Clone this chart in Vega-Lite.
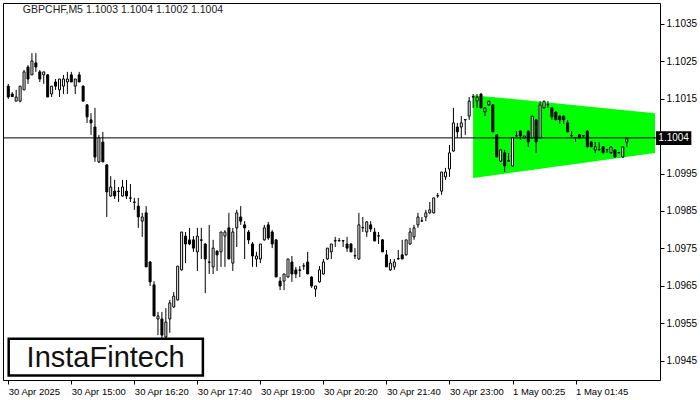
{
  "$schema": "https://vega.github.io/schema/vega-lite/v6.json",
  "width": 657,
  "height": 377,
  "autosize": {"type": "none"},
  "padding": {"left": 3, "top": 3, "right": 40, "bottom": 20},
  "background": "white",
  "config": {
    "view": {"stroke": "black", "strokeWidth": 1},
    "axis": {"domain": false, "grid": false, "tickColor": "black", "labelColor": "black", "labelFont": "Liberation Sans", "title": null}
  },
  "datasets": {
    "one": [{}],
    "candles": [
      {"i":0,"o":1.10183,"h":1.10189,"l":1.10149,"c":1.10154},
      {"i":1,"o":1.10162,"h":1.10167,"l":1.10154,"c":1.10155},
      {"i":2,"o":1.10143,"h":1.10173,"l":1.10143,"c":1.10154},
      {"i":3,"o":1.10143,"h":1.10183,"l":1.10140,"c":1.10183},
      {"i":4,"o":1.10173,"h":1.10226,"l":1.10173,"c":1.10221},
      {"i":5,"o":1.10234,"h":1.10239,"l":1.10189,"c":1.10202},
      {"i":6,"o":1.10213,"h":1.10271,"l":1.10213,"c":1.10250},
      {"i":7,"o":1.10245,"h":1.10271,"l":1.10221,"c":1.10234},
      {"i":8,"o":1.10221,"h":1.10226,"l":1.10194,"c":1.10202},
      {"i":9,"o":1.10213,"h":1.10221,"l":1.10189,"c":1.10221},
      {"i":10,"o":1.10213,"h":1.10215,"l":1.10154,"c":1.10154},
      {"i":11,"o":1.10162,"h":1.10183,"l":1.10154,"c":1.10183},
      {"i":12,"o":1.10194,"h":1.10202,"l":1.10173,"c":1.10183},
      {"i":13,"o":1.10173,"h":1.10202,"l":1.10154,"c":1.10202},
      {"i":14,"o":1.10183,"h":1.10213,"l":1.10162,"c":1.10202},
      {"i":15,"o":1.10194,"h":1.10221,"l":1.10162,"c":1.10202},
      {"i":16,"o":1.10213,"h":1.10221,"l":1.10194,"c":1.10194},
      {"i":17,"o":1.10183,"h":1.10202,"l":1.10162,"c":1.10202},
      {"i":18,"o":1.10213,"h":1.10221,"l":1.10194,"c":1.10194},
      {"i":19,"o":1.10183,"h":1.10185,"l":1.10143,"c":1.10143},
      {"i":20,"o":1.10133,"h":1.10135,"l":1.10085,"c":1.10101},
      {"i":21,"o":1.10093,"h":1.10111,"l":1.10053,"c":1.10085},
      {"i":22,"o":1.10074,"h":1.10125,"l":1.09981,"c":1.09994},
      {"i":23,"o":1.09981,"h":1.10053,"l":1.09978,"c":1.10045},
      {"i":24,"o":1.10034,"h":1.10061,"l":1.09981,"c":1.09981},
      {"i":25,"o":1.09973,"h":1.09975,"l":1.09834,"c":1.09901},
      {"i":26,"o":1.09890,"h":1.09943,"l":1.09888,"c":1.09914},
      {"i":27,"o":1.09903,"h":1.09933,"l":1.09882,"c":1.09890},
      {"i":28,"o":1.09903,"h":1.09914,"l":1.09874,"c":1.09902},
      {"i":29,"o":1.09890,"h":1.09933,"l":1.09888,"c":1.09914},
      {"i":30,"o":1.09903,"h":1.09933,"l":1.09882,"c":1.09890},
      {"i":31,"o":1.09885,"h":1.09922,"l":1.09874,"c":1.09884},
      {"i":32,"o":1.09874,"h":1.09885,"l":1.09853,"c":1.09873},
      {"i":33,"o":1.09863,"h":1.09885,"l":1.09805,"c":1.09834},
      {"i":34,"o":1.09823,"h":1.09845,"l":1.09781,"c":1.09834},
      {"i":35,"o":1.09845,"h":1.09863,"l":1.09701,"c":1.09701},
      {"i":36,"o":1.09714,"h":1.09716,"l":1.09650,"c":1.09661},
      {"i":37,"o":1.09653,"h":1.09663,"l":1.09570,"c":1.09570},
      {"i":38,"o":1.09562,"h":1.09581,"l":1.09519,"c":1.09570},
      {"i":39,"o":1.09562,"h":1.09581,"l":1.09506,"c":1.09519},
      {"i":40,"o":1.09514,"h":1.09591,"l":1.09506,"c":1.09554},
      {"i":41,"o":1.09562,"h":1.09613,"l":1.09525,"c":1.09605},
      {"i":42,"o":1.09594,"h":1.09634,"l":1.09592,"c":1.09623},
      {"i":43,"o":1.09613,"h":1.09703,"l":1.09611,"c":1.09703},
      {"i":44,"o":1.09693,"h":1.09794,"l":1.09691,"c":1.09794},
      {"i":45,"o":1.09783,"h":1.09794,"l":1.09711,"c":1.09762},
      {"i":46,"o":1.09773,"h":1.09805,"l":1.09759,"c":1.09762},
      {"i":47,"o":1.09773,"h":1.09783,"l":1.09741,"c":1.09751},
      {"i":48,"o":1.09741,"h":1.09805,"l":1.09690,"c":1.09783},
      {"i":49,"o":1.09773,"h":1.09805,"l":1.09722,"c":1.09772},
      {"i":50,"o":1.09762,"h":1.09764,"l":1.09631,"c":1.09722},
      {"i":51,"o":1.09714,"h":1.09813,"l":1.09682,"c":1.09713},
      {"i":52,"o":1.09701,"h":1.09773,"l":1.09682,"c":1.09751},
      {"i":53,"o":1.09743,"h":1.09745,"l":1.09690,"c":1.09733},
      {"i":54,"o":1.09741,"h":1.09794,"l":1.09701,"c":1.09794},
      {"i":55,"o":1.09783,"h":1.09799,"l":1.09701,"c":1.09794},
      {"i":56,"o":1.09805,"h":1.09845,"l":1.09722,"c":1.09722},
      {"i":57,"o":1.09711,"h":1.09805,"l":1.09690,"c":1.09794},
      {"i":58,"o":1.09805,"h":1.09853,"l":1.09754,"c":1.09845},
      {"i":59,"o":1.09834,"h":1.09863,"l":1.09813,"c":1.09823},
      {"i":60,"o":1.09813,"h":1.09823,"l":1.09722,"c":1.09805},
      {"i":61,"o":1.09794,"h":1.09799,"l":1.09762,"c":1.09773},
      {"i":62,"o":1.09762,"h":1.09767,"l":1.09701,"c":1.09730},
      {"i":63,"o":1.09722,"h":1.09741,"l":1.09701,"c":1.09730},
      {"i":64,"o":1.09722,"h":1.09762,"l":1.09711,"c":1.09762},
      {"i":65,"o":1.09773,"h":1.09813,"l":1.09771,"c":1.09805},
      {"i":66,"o":1.09813,"h":1.09821,"l":1.09773,"c":1.09778},
      {"i":67,"o":1.09794,"h":1.09799,"l":1.09751,"c":1.09762},
      {"i":68,"o":1.09773,"h":1.09775,"l":1.09674,"c":1.09674},
      {"i":69,"o":1.09663,"h":1.09674,"l":1.09639,"c":1.09650},
      {"i":70,"o":1.09663,"h":1.09682,"l":1.09639,"c":1.09682},
      {"i":71,"o":1.09674,"h":1.09722,"l":1.09672,"c":1.09722},
      {"i":72,"o":1.09714,"h":1.09730,"l":1.09661,"c":1.09682},
      {"i":73,"o":1.09693,"h":1.09701,"l":1.09671,"c":1.09682},
      {"i":74,"o":1.09693,"h":1.09703,"l":1.09674,"c":1.09692},
      {"i":75,"o":1.09703,"h":1.09711,"l":1.09693,"c":1.09704},
      {"i":76,"o":1.09714,"h":1.09741,"l":1.09682,"c":1.09682},
      {"i":77,"o":1.09674,"h":1.09676,"l":1.09645,"c":1.09650},
      {"i":78,"o":1.09642,"h":1.09650,"l":1.09621,"c":1.09650},
      {"i":79,"o":1.09661,"h":1.09703,"l":1.09659,"c":1.09693},
      {"i":80,"o":1.09682,"h":1.09722,"l":1.09680,"c":1.09714},
      {"i":81,"o":1.09722,"h":1.09751,"l":1.09720,"c":1.09751},
      {"i":82,"o":1.09741,"h":1.09762,"l":1.09722,"c":1.09762},
      {"i":83,"o":1.09770,"h":1.09781,"l":1.09754,"c":1.09771},
      {"i":84,"o":1.09770,"h":1.09778,"l":1.09770,"c":1.09771},
      {"i":85,"o":1.09770,"h":1.09771,"l":1.09754,"c":1.09771},
      {"i":86,"o":1.09762,"h":1.09781,"l":1.09741,"c":1.09751},
      {"i":87,"o":1.09762,"h":1.09764,"l":1.09741,"c":1.09741},
      {"i":88,"o":1.09730,"h":1.09751,"l":1.09722,"c":1.09731},
      {"i":89,"o":1.09722,"h":1.09845,"l":1.09720,"c":1.09813},
      {"i":90,"o":1.09805,"h":1.09834,"l":1.09794,"c":1.09806},
      {"i":91,"o":1.09794,"h":1.09823,"l":1.09781,"c":1.09821},
      {"i":92,"o":1.09813,"h":1.09823,"l":1.09794,"c":1.09802},
      {"i":93,"o":1.09794,"h":1.09805,"l":1.09770,"c":1.09770},
      {"i":94,"o":1.09783,"h":1.09794,"l":1.09762,"c":1.09784},
      {"i":95,"o":1.09773,"h":1.09775,"l":1.09741,"c":1.09741},
      {"i":96,"o":1.09733,"h":1.09746,"l":1.09701,"c":1.09701},
      {"i":97,"o":1.09693,"h":1.09722,"l":1.09690,"c":1.09711},
      {"i":98,"o":1.09701,"h":1.09722,"l":1.09693,"c":1.09714},
      {"i":99,"o":1.09722,"h":1.09746,"l":1.09720,"c":1.09723},
      {"i":100,"o":1.09733,"h":1.09773,"l":1.09722,"c":1.09722},
      {"i":101,"o":1.09733,"h":1.09773,"l":1.09731,"c":1.09773},
      {"i":102,"o":1.09762,"h":1.09805,"l":1.09760,"c":1.09794},
      {"i":103,"o":1.09781,"h":1.09813,"l":1.09773,"c":1.09805},
      {"i":104,"o":1.09813,"h":1.09845,"l":1.09805,"c":1.09834},
      {"i":105,"o":1.09823,"h":1.09834,"l":1.09821,"c":1.09824},
      {"i":106,"o":1.09834,"h":1.09853,"l":1.09823,"c":1.09845},
      {"i":107,"o":1.09845,"h":1.09874,"l":1.09843,"c":1.09853},
      {"i":108,"o":1.09845,"h":1.09885,"l":1.09843,"c":1.09885},
      {"i":109,"o":1.09890,"h":1.09898,"l":1.09885,"c":1.09891},
      {"i":110,"o":1.09903,"h":1.09954,"l":1.09893,"c":1.09954},
      {"i":111,"o":1.09941,"h":1.09965,"l":1.09933,"c":1.09954},
      {"i":112,"o":1.09962,"h":1.10026,"l":1.09941,"c":1.10005},
      {"i":113,"o":1.10010,"h":1.10125,"l":1.10008,"c":1.10085},
      {"i":114,"o":1.10074,"h":1.10085,"l":1.10045,"c":1.10061},
      {"i":115,"o":1.10074,"h":1.10103,"l":1.10045,"c":1.10085},
      {"i":116,"o":1.10093,"h":1.10095,"l":1.10053,"c":1.10094},
      {"i":117,"o":1.10103,"h":1.10154,"l":1.10093,"c":1.10143},
      {"i":118,"o":1.10154,"h":1.10162,"l":1.10125,"c":1.10155},
      {"i":119,"o":1.10143,"h":1.10162,"l":1.10125,"c":1.10154},
      {"i":120,"o":1.10162,"h":1.10164,"l":1.10125,"c":1.10125},
      {"i":121,"o":1.10114,"h":1.10125,"l":1.10103,"c":1.10125},
      {"i":122,"o":1.10133,"h":1.10143,"l":1.10131,"c":1.10143},
      {"i":123,"o":1.10133,"h":1.10135,"l":1.10061,"c":1.10061},
      {"i":124,"o":1.10053,"h":1.10055,"l":1.09994,"c":1.09994},
      {"i":125,"o":1.09983,"h":1.10013,"l":1.09981,"c":1.10013},
      {"i":126,"o":1.10005,"h":1.10013,"l":1.09954,"c":1.09970},
      {"i":127,"o":1.09983,"h":1.10005,"l":1.09981,"c":1.09984},
      {"i":128,"o":1.09970,"h":1.10045,"l":1.09968,"c":1.10045},
      {"i":129,"o":1.10050,"h":1.10063,"l":1.10048,"c":1.10051},
      {"i":130,"o":1.10063,"h":1.10065,"l":1.10040,"c":1.10050},
      {"i":131,"o":1.10045,"h":1.10050,"l":1.10043,"c":1.10050},
      {"i":132,"o":1.10063,"h":1.10065,"l":1.10021,"c":1.10034},
      {"i":133,"o":1.10045,"h":1.10103,"l":1.10043,"c":1.10103},
      {"i":134,"o":1.10093,"h":1.10095,"l":1.10005,"c":1.10034},
      {"i":135,"o":1.10045,"h":1.10143,"l":1.10043,"c":1.10133},
      {"i":136,"o":1.10125,"h":1.10143,"l":1.10123,"c":1.10143},
      {"i":137,"o":1.10133,"h":1.10143,"l":1.10125,"c":1.10134},
      {"i":138,"o":1.10125,"h":1.10127,"l":1.10093,"c":1.10101},
      {"i":139,"o":1.10114,"h":1.10116,"l":1.10093,"c":1.10093},
      {"i":140,"o":1.10103,"h":1.10105,"l":1.10082,"c":1.10093},
      {"i":141,"o":1.10103,"h":1.10105,"l":1.10082,"c":1.10093},
      {"i":142,"o":1.10085,"h":1.10093,"l":1.10061,"c":1.10061},
      {"i":143,"o":1.10050,"h":1.10063,"l":1.10048,"c":1.10051},
      {"i":144,"o":1.10045,"h":1.10047,"l":1.10034,"c":1.10046},
      {"i":145,"o":1.10053,"h":1.10055,"l":1.10045,"c":1.10045},
      {"i":146,"o":1.10050,"h":1.10052,"l":1.10045,"c":1.10051},
      {"i":147,"o":1.10063,"h":1.10065,"l":1.10021,"c":1.10021},
      {"i":148,"o":1.10034,"h":1.10036,"l":1.10021,"c":1.10021},
      {"i":149,"o":1.10013,"h":1.10034,"l":1.10005,"c":1.10021},
      {"i":150,"o":1.10013,"h":1.10034,"l":1.10011,"c":1.10014},
      {"i":151,"o":1.10021,"h":1.10023,"l":1.10005,"c":1.10005},
      {"i":152,"o":1.10013,"h":1.10015,"l":1.10005,"c":1.10014},
      {"i":153,"o":1.10005,"h":1.10021,"l":1.10003,"c":1.10021},
      {"i":154,"o":1.10013,"h":1.10015,"l":1.09994,"c":1.09994},
      {"i":155,"o":1.10005,"h":1.10006,"l":1.10004,"c":1.10006},
      {"i":156,"o":1.09994,"h":1.10021,"l":1.09992,"c":1.10021},
      {"i":157,"o":1.10034,"h":1.10045,"l":1.10021,"c":1.10042}
    ],
    "triangle": [
      {"i": 118, "top": 1.10159, "bottom": 1.09938},
      {"i": 164.175, "top": 1.10111, "bottom": 1.10005}
    ]
  },
  "layer": [
    {
      "data": {"name": "triangle"},
      "mark": {"type": "area", "color": "#00ff00", "opacity": 1},
      "encoding": {
        "x": {"field": "i", "type": "quantitative", "scale": {"domain": [-0.075, 164.175], "nice": false, "zero": false},
          "axis": {"orient": "bottom", "values": [0, 16, 32, 48, 64, 80, 96, 112, 128, 144], "tickSize": 4, "labelAlign": "left", "labelPadding": 2, "labelFontSize": 9.5, "labelFlush": false, "labelOverlap": false,
            "labelExpr": "['30 Apr 2025','30 Apr 15:00','30 Apr 16:20','30 Apr 17:40','30 Apr 19:00','30 Apr 20:20','30 Apr 21:40','30 Apr 23:00','1 May 00:25','1 May 01:45'][round(datum.value/16)]"}},
        "y": {"field": "bottom", "type": "quantitative", "scale": {"domain": [1.0939933, 1.1040467], "nice": false, "zero": false},
          "axis": {"orient": "right", "values": [1.0945, 1.0955, 1.0965, 1.0975, 1.0985, 1.0995, 1.1015, 1.1025, 1.1035], "format": ".4f", "tickSize": 4, "labelPadding": 2, "labelFontSize": 10, "labelOverlap": false, "labelFlush": false}},
        "y2": {"field": "top"}
      }
    },
    {
      "data": {"name": "one"},
      "mark": {"type": "rule", "color": "black", "strokeWidth": 1},
      "encoding": {"y": {"datum": 1.10045, "type": "quantitative", "scale": {"domain": [1.0939933, 1.1040467], "nice": false, "zero": false}}}
    },
    {
      "data": {"name": "candles"},
      "mark": {"type": "rule", "color": "black", "strokeWidth": 1},
      "encoding": {
        "x": {"field": "i", "type": "quantitative", "scale": {"domain": [-0.075, 164.175], "nice": false, "zero": false}},
        "y": {"field": "l", "type": "quantitative", "scale": {"domain": [1.0939933, 1.1040467], "nice": false, "zero": false}},
        "y2": {"field": "h"}
      }
    },
    {
      "data": {"name": "candles"},
      "mark": {"type": "bar", "size": 2, "stroke": "black", "strokeWidth": 1, "orient": "vertical"},
      "encoding": {
        "x": {"field": "i", "type": "quantitative", "scale": {"domain": [-0.075, 164.175], "nice": false, "zero": false}},
        "y": {"field": "o", "type": "quantitative", "scale": {"domain": [1.0939933, 1.1040467], "nice": false, "zero": false}},
        "y2": {"field": "c"},
        "fill": {"condition": {"test": "datum.c >= datum.o", "value": "white"}, "value": "black"}
      }
    },
    {
      "data": {"name": "one"},
      "mark": {"type": "rect", "fill": "white", "stroke": "black", "strokeWidth": 2.5},
      "encoding": {
        "x": {"datum": 0.1, "type": "quantitative", "scale": {"domain": [-0.075, 164.175], "nice": false, "zero": false}},
        "x2": {"datum": 49.4},
        "y": {"datum": 1.09411, "type": "quantitative", "scale": {"domain": [1.0939933, 1.1040467], "nice": false, "zero": false}},
        "y2": {"datum": 1.09509}
      }
    },
    {
      "data": {"name": "one"},
      "mark": {"type": "text", "text": "InstaFintech", "font": "Liberation Sans", "fontSize": 29, "color": "#111111", "align": "center", "baseline": "middle"},
      "encoding": {
        "x": {"datum": 24.7, "type": "quantitative", "scale": {"domain": [-0.075, 164.175], "nice": false, "zero": false}},
        "y": {"datum": 1.09458, "type": "quantitative", "scale": {"domain": [1.0939933, 1.1040467], "nice": false, "zero": false}}
      }
    },
    {
      "data": {"name": "one"},
      "mark": {"type": "text", "text": "GBPCHF,M5  1.1003 1.1004 1.1002 1.1004", "font": "Liberation Sans", "fontSize": 10.5, "color": "#222222", "align": "left", "baseline": "middle"},
      "encoding": {
        "x": {"datum": 3.7, "type": "quantitative", "scale": {"domain": [-0.075, 164.175], "nice": false, "zero": false}},
        "y": {"datum": 1.10386, "type": "quantitative", "scale": {"domain": [1.0939933, 1.1040467], "nice": false, "zero": false}}
      }
    },
    {
      "data": {"name": "one"},
      "mark": {"type": "rect", "fill": "black"},
      "encoding": {
        "x": {"datum": 164.4, "type": "quantitative", "scale": {"domain": [-0.075, 164.175], "nice": false, "zero": false}},
        "x2": {"datum": 173.4},
        "y": {"datum": 1.10063, "type": "quantitative", "scale": {"domain": [1.0939933, 1.1040467], "nice": false, "zero": false}},
        "y2": {"datum": 1.10026}
      }
    },
    {
      "data": {"name": "one"},
      "mark": {"type": "text", "text": "1.1004", "font": "Liberation Sans", "fontSize": 10, "color": "white", "align": "center", "baseline": "middle"},
      "encoding": {
        "x": {"datum": 168.9, "type": "quantitative", "scale": {"domain": [-0.075, 164.175], "nice": false, "zero": false}},
        "y": {"datum": 1.10045, "type": "quantitative", "scale": {"domain": [1.0939933, 1.1040467], "nice": false, "zero": false}}
      }
    }
  ]
}
